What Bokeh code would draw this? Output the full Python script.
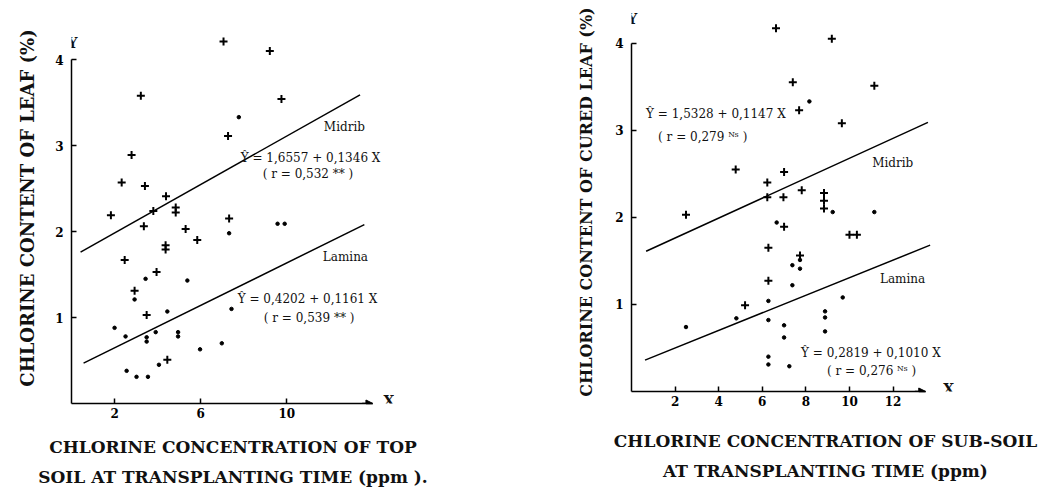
from bokeh.plotting import figure
from bokeh.layouts import row
from bokeh.models import Label, FixedTicker, Arrow, NormalHead
from bokeh.embed import file_html
from bokeh.resources import INLINE

# ---------------- data ----------------
# Left panel: top soil
top_mid_x = [7.06, 9.21, 3.22, 9.75, 7.27, 2.79, 2.33, 3.41, 4.39, 4.84, 3.80, 1.83, 4.84,
             7.32, 3.36, 5.30, 5.84, 4.37, 4.37, 2.47, 3.95, 2.93, 3.49, 4.45]
top_mid_y = [4.21, 4.10, 3.58, 3.54, 3.11, 2.89, 2.57, 2.53, 2.41, 2.28, 2.24, 2.19, 2.22,
             2.15, 2.06, 2.03, 1.90, 1.84, 1.79, 1.67, 1.53, 1.31, 1.03, 0.51]
top_lam_x = [7.77, 7.32, 9.57, 9.90, 3.44, 5.38, 2.93, 4.45, 7.43, 2.00, 2.51, 3.49, 3.49,
             3.91, 4.95, 4.95, 5.97, 6.98, 2.56, 3.02, 3.55, 4.06]
top_lam_y = [3.33, 1.98, 2.09, 2.09, 1.45, 1.43, 1.21, 1.07, 1.10, 0.88, 0.78, 0.77, 0.72,
             0.83, 0.83, 0.78, 0.63, 0.70, 0.38, 0.31, 0.31, 0.45]
top_mid_line_x = [0.42, 13.4]
top_mid_line_y = [1.76, 3.59]
top_lam_line_x = [0.56, 13.6]
top_lam_line_y = [0.47, 2.08]

# Right panel: sub-soil
sub_mid_x = [6.63, 9.19, 7.40, 11.14, 7.69, 9.65, 4.78, 7.00, 6.23, 6.23, 6.97, 7.81, 8.83,
             8.83, 8.83, 2.50, 7.00, 7.73, 10.00, 10.34, 6.28, 6.28, 5.21]
sub_mid_y = [4.17, 4.05, 3.55, 3.51, 3.23, 3.08, 2.55, 2.52, 2.40, 2.23, 2.23, 2.31, 2.28,
             2.19, 2.10, 2.03, 1.89, 1.56, 1.80, 1.80, 1.65, 1.27, 0.99]
sub_lam_x = [8.16, 9.23, 11.14, 6.66, 7.73, 7.73, 7.38, 7.38, 6.28, 9.69, 4.81, 2.50, 6.28,
             7.00, 7.00, 8.88, 8.88, 8.88, 6.28, 6.28, 7.24]
sub_lam_y = [3.33, 2.06, 2.06, 1.94, 1.51, 1.41, 1.45, 1.22, 1.04, 1.08, 0.84, 0.74, 0.82,
             0.76, 0.62, 0.92, 0.85, 0.69, 0.40, 0.31, 0.29]
sub_mid_line_x = [0.67, 13.6]
sub_mid_line_y = [1.61, 3.09]
sub_lam_line_x = [0.62, 13.7]
sub_lam_line_y = [0.36, 1.68]

top_xticks = [2, 6, 10]
sub_xticks = [2, 4, 6, 8, 10, 12]
yticks = [1, 2, 3, 4]

SERIF = "DejaVu Serif"


def style_axes(p, xticks, xbound, ylabel, xlabel, ystand, xstand, ysize):
    for ax in (p.xaxis[0], p.yaxis[0]):
        ax.axis_line_width = 1.5
        ax.axis_line_color = "black"
        ax.major_tick_in = 5
        ax.major_tick_out = 0
        ax.major_tick_line_width = 1.5
        ax.minor_tick_line_color = None
        ax.major_label_text_font = SERIF
        ax.major_label_text_font_style = "bold"
        ax.major_label_text_font_size = "12px"
        ax.major_label_text_color = "black"
        ax.axis_label_text_font = SERIF
        ax.axis_label_text_font_style = "bold"
        ax.axis_label_text_color = "#111111"
    p.xaxis.axis_label_text_font_size = "17px"
    p.yaxis.axis_label_text_font_size = ysize
    p.xaxis.ticker = FixedTicker(ticks=xticks)
    p.yaxis.ticker = FixedTicker(ticks=yticks)
    p.xaxis.bounds = (0, xbound)
    p.yaxis.bounds = (0, 4)
    p.xaxis.major_label_standoff = 4
    p.yaxis.major_label_standoff = 8
    p.yaxis.major_label_orientation = "horizontal"
    p.yaxis.axis_label = ylabel
    p.xaxis.axis_label = xlabel
    p.yaxis.axis_label_standoff = ystand
    p.xaxis.axis_label_standoff = xstand
    p.xaxis.axis_label_text_line_height = 1.5
    p.xgrid.visible = False
    p.ygrid.visible = False
    p.outline_line_color = None
    p.add_layout(Arrow(end=NormalHead(size=7, fill_color="black", line_color="black"),
                       x_start=xbound - 0.5, y_start=0, x_end=xbound, y_end=0,
                       line_color="black", line_width=1.5))


def add_label(p, x, y, text, size="12px", align="left", style="normal"):
    p.add_layout(Label(x=x, y=y, text=text, text_font=SERIF, text_font_size=size,
                       text_font_style=style, text_baseline="middle", text_align=align,
                       text_color="#111111"))


# ---------------- left panel ----------------
p1 = figure(frame_width=323, frame_height=391, x_range=(0, 15), y_range=(0, 4.547),
            min_border_left=71, min_border_right=146, min_border_top=12, min_border_bottom=77,
            output_backend="svg", toolbar_location=None)
p1.line(top_mid_line_x, top_mid_line_y, line_color="black", line_width=1.5)
p1.line(top_lam_line_x, top_lam_line_y, line_color="black", line_width=1.5)
p1.scatter(top_mid_x, top_mid_y, marker="cross", size=8, line_width=2, line_color="black")
p1.scatter(top_lam_x, top_lam_y, marker="circle", size=3.5, fill_color="black", line_color="black")
style_axes(p1, top_xticks, 14, "CHLORINE CONTENT OF LEAF (%)",
           "CHLORINE CONCENTRATION OF TOP\nSOIL AT TRANSPLANTING TIME (ppm ).", 14, 16, "18px")
add_label(p1, 0.05, 4.19, "Y", "14px", "center", "bold")
add_label(p1, 14.74, 0.03, "X", "14px", "center", "bold")
add_label(p1, 11.72, 3.22, "Midrib")
add_label(p1, 7.86, 2.86, "Ŷ = 1,6557 + 0,1346 X")
add_label(p1, 8.88, 2.67, "( r = 0,532 ** )")
add_label(p1, 11.67, 1.70, "Lamina")
add_label(p1, 7.72, 1.21, "Ŷ = 0,4202 + 0,1161 X")
add_label(p1, 8.93, 0.99, "( r = 0,539 ** )")

# ---------------- right panel ----------------
p2 = figure(frame_width=388, frame_height=379, x_range=(0, 17.8), y_range=(0, 4.351),
            min_border_left=91, min_border_right=26, min_border_top=12, min_border_bottom=89,
            output_backend="svg", toolbar_location=None)
p2.line(sub_mid_line_x, sub_mid_line_y, line_color="black", line_width=1.5)
p2.line(sub_lam_line_x, sub_lam_line_y, line_color="black", line_width=1.5)
p2.scatter(sub_mid_x, sub_mid_y, marker="cross", size=8, line_width=2, line_color="black")
p2.scatter(sub_lam_x, sub_lam_y, marker="circle", size=3.5, fill_color="black", line_color="black")
style_axes(p2, sub_xticks, 13.5, "CHLORINE CONTENT OF CURED LEAF (%)",
           "CHLORINE CONCENTRATION OF SUB-SOIL\nAT TRANSPLANTING TIME (ppm)", 16, 22, "16px")
add_label(p2, 0.03, 4.28, "Y", "14px", "center", "bold")
add_label(p2, 14.55, 0.03, "X", "14px", "center", "bold")
add_label(p2, 0.67, 3.19, "Ŷ = 1,5328 + 0,1147 X")
add_label(p2, 1.22, 2.92, "( r = 0,279 ᴺˢ )")
add_label(p2, 11.04, 2.62, "Midrib")
add_label(p2, 11.40, 1.29, "Lamina")
add_label(p2, 7.78, 0.44, "Ŷ = 0,2819 + 0,1010 X")
add_label(p2, 8.97, 0.24, "( r = 0,276 ᴺˢ )")

layout = row(p1, p2)
open("out.html", "w").write(file_html(layout, INLINE))
